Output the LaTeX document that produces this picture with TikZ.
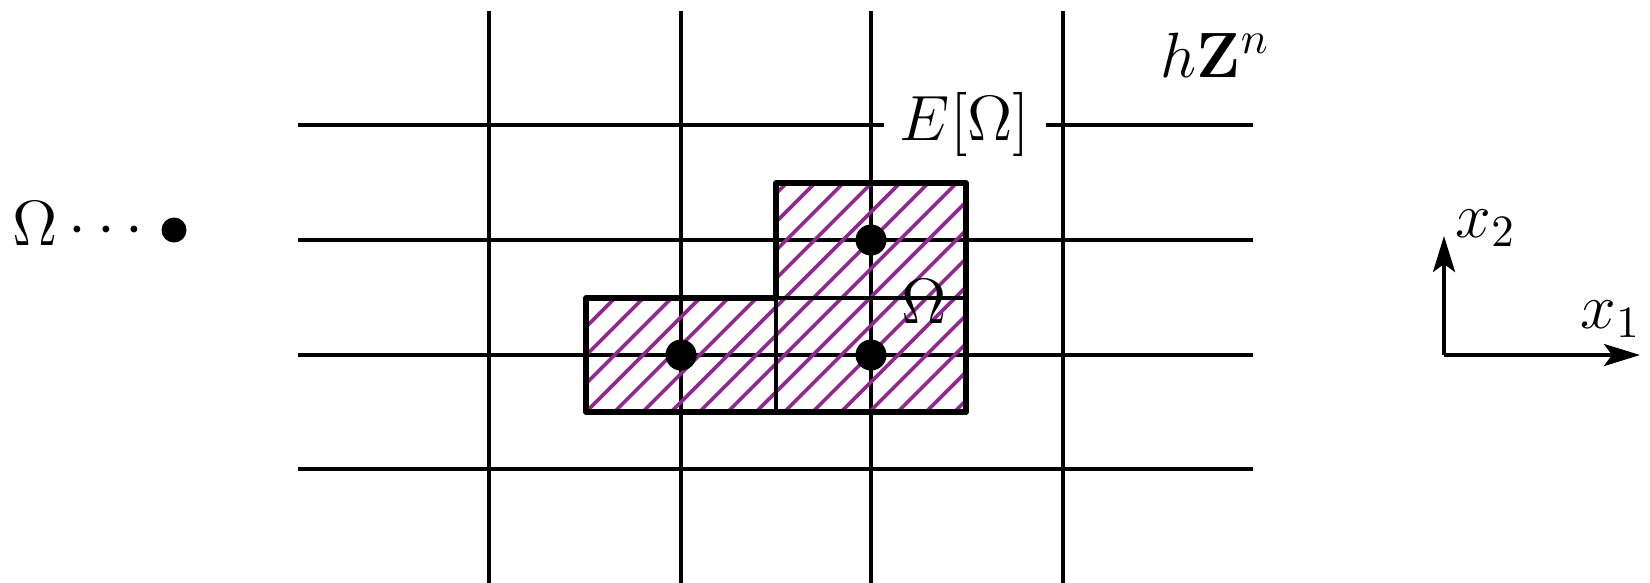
\documentclass[tikz,border=0pt]{standalone}
\usepackage{fix-cm}
\usepackage{amsmath}
\usetikzlibrary{arrows.meta}
\definecolor{hatchc}{RGB}{146,39,143}
\begin{document}
\begin{tikzpicture}[x=0.25pt,y=-0.25pt,
  every node/.style={font=\fontsize{16}{19}\selectfont},
  gridline/.style={line width=1pt},
  hatchline/.style={line width=0.9pt,hatchc},
  outline/.style={line width=1.4pt,line join=round},
  celledge/.style={line width=1pt},
  bigdot/.style={circle,fill=black,inner sep=0pt,minimum size=7.75pt},
  smalldot/.style={circle,fill=black,inner sep=0pt,minimum size=6.25pt},
  axis/.style={line width=1pt,-{Stealth[length=9pt,width=5.5pt,inset=2pt]}},
  lbl/.style={inner sep=0pt}]
\useasboundingbox (0,0) rectangle (1650,582);
% grid
\foreach \gx in {489,681,871,1063}{\draw[gridline] (\gx,11) -- (\gx,583);}
\foreach \gy in {125,240,355,469}{\draw[gridline] (298,\gy) -- (1253,\gy);}
% hatching
\begin{scope}
  \clip (586,298) -- (776,298) -- (776,183) -- (966,183) -- (966,412) -- (586,412) -- cycle;
  \foreach \k in {-9,...,14}{
    \draw[hatchline] ({586+\k*28.33},412) -- ({586+\k*28.33+240},172);
  }
\end{scope}
% cell edges
\draw[celledge] (776,298) -- (776,412);
\draw[celledge] (776,298) -- (966,298);
% outline
\draw[outline] (586,298) -- (776,298) -- (776,183) -- (966,183) -- (966,412) -- (586,412) -- cycle;
% grid points
\node[bigdot] (p1) at (681,355) {};
\node[bigdot] (p2) at (871,355) {};
\node[bigdot] (p3) at (871,240) {};
% labels
\node[lbl,anchor=base west] (om) at (901,323) {$\Omega$};
\node[fill=white,inner sep=4pt,anchor=base] (eom) at (965,140) {$E[\Omega]$};
\node[lbl,anchor=base west] (hz) at (1160,77) {$h\mathbf{Z}^n$};
% legend
\node[lbl,anchor=base west] (leg) at (12,245) {$\Omega\cdots$};
\node[smalldot] (legdot) at (174,230) {};
% axes
\coordinate (o) at (1444,355);
\coordinate (xe) at (1640,355);
\coordinate (ye) at (1444,236);
\draw[axis] (o) -- (xe);
\draw[axis] (o) -- (ye);
\node[lbl,anchor=base west] (x1) at (1580,328) {$x_1$};
\node[lbl,anchor=base west] (x2) at (1455,237) {$x_2$};
\end{tikzpicture}
\end{document}
